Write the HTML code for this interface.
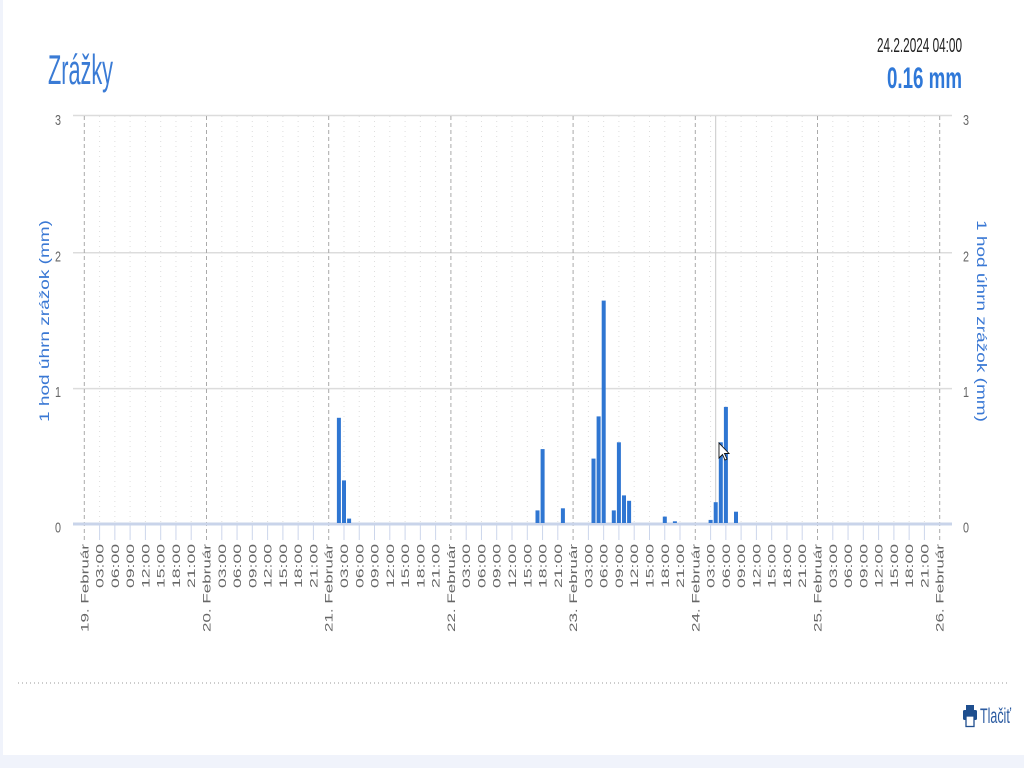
<!DOCTYPE html>
<html><head><meta charset="utf-8"><style>
html,body{margin:0;padding:0;background:#fff;}
svg{display:block;}
text{font-family:"Liberation Sans",Arial,sans-serif;}
</style></head><body>
<svg width="1024" height="768" viewBox="0 0 1024 768" xmlns="http://www.w3.org/2000/svg">
<rect x="0" y="0" width="1024" height="768" fill="#ffffff"/>
<rect x="0" y="0" width="3" height="768" fill="#f0f3fb"/>
<rect x="0" y="755" width="1024" height="13" fill="#f0f3fb"/>

<!-- title -->
<text x="48" y="84" font-size="42" fill="#3a7bd5" textLength="65" lengthAdjust="spacingAndGlyphs">Zrážky</text>
<text x="877" y="52" font-size="20" fill="#222" textLength="85" lengthAdjust="spacingAndGlyphs">24.2.2024 04:00</text>
<text x="887" y="88" font-size="30" font-weight="bold" fill="#2f78d8" textLength="75" lengthAdjust="spacingAndGlyphs">0.16 mm</text>

<!-- hour dotted lines -->
<g stroke="#dedede" stroke-width="1" stroke-dasharray="1 4">
<line x1="99.6" y1="116" x2="99.6" y2="523"/><line x1="114.85" y1="116" x2="114.85" y2="523"/><line x1="130.1" y1="116" x2="130.1" y2="523"/><line x1="145.4" y1="116" x2="145.4" y2="523"/><line x1="160.7" y1="116" x2="160.7" y2="523"/><line x1="175.95" y1="116" x2="175.95" y2="523"/><line x1="191.2" y1="116" x2="191.2" y2="523"/>
<line x1="221.8" y1="116" x2="221.8" y2="523"/><line x1="237.05" y1="116" x2="237.05" y2="523"/><line x1="252.3" y1="116" x2="252.3" y2="523"/><line x1="267.6" y1="116" x2="267.6" y2="523"/><line x1="282.9" y1="116" x2="282.9" y2="523"/><line x1="298.15" y1="116" x2="298.15" y2="523"/><line x1="313.4" y1="116" x2="313.4" y2="523"/>
<line x1="344" y1="116" x2="344" y2="523"/><line x1="359.25" y1="116" x2="359.25" y2="523"/><line x1="374.5" y1="116" x2="374.5" y2="523"/><line x1="389.8" y1="116" x2="389.8" y2="523"/><line x1="405.1" y1="116" x2="405.1" y2="523"/><line x1="420.35" y1="116" x2="420.35" y2="523"/><line x1="435.6" y1="116" x2="435.6" y2="523"/>
<line x1="466.2" y1="116" x2="466.2" y2="523"/><line x1="481.45" y1="116" x2="481.45" y2="523"/><line x1="496.7" y1="116" x2="496.7" y2="523"/><line x1="512" y1="116" x2="512" y2="523"/><line x1="527.3" y1="116" x2="527.3" y2="523"/><line x1="542.55" y1="116" x2="542.55" y2="523"/><line x1="557.8" y1="116" x2="557.8" y2="523"/>
<line x1="588.4" y1="116" x2="588.4" y2="523"/><line x1="603.65" y1="116" x2="603.65" y2="523"/><line x1="618.9" y1="116" x2="618.9" y2="523"/><line x1="634.2" y1="116" x2="634.2" y2="523"/><line x1="649.5" y1="116" x2="649.5" y2="523"/><line x1="664.75" y1="116" x2="664.75" y2="523"/><line x1="680" y1="116" x2="680" y2="523"/>
<line x1="710.6" y1="116" x2="710.6" y2="523"/><line x1="725.85" y1="116" x2="725.85" y2="523"/><line x1="741.1" y1="116" x2="741.1" y2="523"/><line x1="756.4" y1="116" x2="756.4" y2="523"/><line x1="771.7" y1="116" x2="771.7" y2="523"/><line x1="786.95" y1="116" x2="786.95" y2="523"/><line x1="802.2" y1="116" x2="802.2" y2="523"/>
<line x1="832.8" y1="116" x2="832.8" y2="523"/><line x1="848.05" y1="116" x2="848.05" y2="523"/><line x1="863.3" y1="116" x2="863.3" y2="523"/><line x1="878.6" y1="116" x2="878.6" y2="523"/><line x1="893.9" y1="116" x2="893.9" y2="523"/><line x1="909.15" y1="116" x2="909.15" y2="523"/><line x1="924.4" y1="116" x2="924.4" y2="523"/>
</g>

<!-- horizontal grid -->
<g stroke="#dcdcdc" stroke-width="1.5">
<line x1="73" y1="115.5" x2="952" y2="115.5"/>
<line x1="73" y1="252.7" x2="952" y2="252.7"/>
<line x1="73" y1="388.6" x2="952" y2="388.6"/>
</g>

<!-- day dashed lines -->
<g stroke="#aaaaaa" stroke-width="1" stroke-dasharray="4 3">
<line x1="84.3" y1="116" x2="84.3" y2="540"/>
<line x1="206.5" y1="116" x2="206.5" y2="540"/>
<line x1="328.7" y1="116" x2="328.7" y2="540"/>
<line x1="450.9" y1="116" x2="450.9" y2="540"/>
<line x1="573.1" y1="116" x2="573.1" y2="540"/>
<line x1="695.3" y1="116" x2="695.3" y2="540"/>
<line x1="817.5" y1="116" x2="817.5" y2="540"/>
<line x1="939.7" y1="116" x2="939.7" y2="540"/>
</g>

<!-- crosshair -->
<line x1="715.7" y1="116" x2="715.7" y2="523" stroke="#c8c8c8" stroke-width="1"/>

<!-- ticks below axis -->
<g stroke="#ccd6eb" stroke-width="1">
<line x1="99.6" y1="525" x2="99.6" y2="540"/><line x1="114.85" y1="525" x2="114.85" y2="540"/><line x1="130.1" y1="525" x2="130.1" y2="540"/><line x1="145.4" y1="525" x2="145.4" y2="540"/><line x1="160.7" y1="525" x2="160.7" y2="540"/><line x1="175.95" y1="525" x2="175.95" y2="540"/><line x1="191.2" y1="525" x2="191.2" y2="540"/>
<line x1="221.8" y1="525" x2="221.8" y2="540"/><line x1="237.05" y1="525" x2="237.05" y2="540"/><line x1="252.3" y1="525" x2="252.3" y2="540"/><line x1="267.6" y1="525" x2="267.6" y2="540"/><line x1="282.9" y1="525" x2="282.9" y2="540"/><line x1="298.15" y1="525" x2="298.15" y2="540"/><line x1="313.4" y1="525" x2="313.4" y2="540"/>
<line x1="344" y1="525" x2="344" y2="540"/><line x1="359.25" y1="525" x2="359.25" y2="540"/><line x1="374.5" y1="525" x2="374.5" y2="540"/><line x1="389.8" y1="525" x2="389.8" y2="540"/><line x1="405.1" y1="525" x2="405.1" y2="540"/><line x1="420.35" y1="525" x2="420.35" y2="540"/><line x1="435.6" y1="525" x2="435.6" y2="540"/>
<line x1="466.2" y1="525" x2="466.2" y2="540"/><line x1="481.45" y1="525" x2="481.45" y2="540"/><line x1="496.7" y1="525" x2="496.7" y2="540"/><line x1="512" y1="525" x2="512" y2="540"/><line x1="527.3" y1="525" x2="527.3" y2="540"/><line x1="542.55" y1="525" x2="542.55" y2="540"/><line x1="557.8" y1="525" x2="557.8" y2="540"/>
<line x1="588.4" y1="525" x2="588.4" y2="540"/><line x1="603.65" y1="525" x2="603.65" y2="540"/><line x1="618.9" y1="525" x2="618.9" y2="540"/><line x1="634.2" y1="525" x2="634.2" y2="540"/><line x1="649.5" y1="525" x2="649.5" y2="540"/><line x1="664.75" y1="525" x2="664.75" y2="540"/><line x1="680" y1="525" x2="680" y2="540"/>
<line x1="710.6" y1="525" x2="710.6" y2="540"/><line x1="725.85" y1="525" x2="725.85" y2="540"/><line x1="741.1" y1="525" x2="741.1" y2="540"/><line x1="756.4" y1="525" x2="756.4" y2="540"/><line x1="771.7" y1="525" x2="771.7" y2="540"/><line x1="786.95" y1="525" x2="786.95" y2="540"/><line x1="802.2" y1="525" x2="802.2" y2="540"/>
<line x1="832.8" y1="525" x2="832.8" y2="540"/><line x1="848.05" y1="525" x2="848.05" y2="540"/><line x1="863.3" y1="525" x2="863.3" y2="540"/><line x1="878.6" y1="525" x2="878.6" y2="540"/><line x1="893.9" y1="525" x2="893.9" y2="540"/><line x1="909.15" y1="525" x2="909.15" y2="540"/><line x1="924.4" y1="525" x2="924.4" y2="540"/>
</g>

<!-- zero axis line -->
<line x1="73" y1="524" x2="952" y2="524" stroke="#c9d4ea" stroke-width="3"/>

<!-- bars -->
<g fill="#2f76d2">
<rect x="336.9" y="417.8" width="4" height="105.2"/>
<rect x="342" y="480.4" width="4" height="42.6"/>
<rect x="347.1" y="518.6" width="4" height="4.4"/>
<rect x="535.5" y="510.4" width="4" height="12.6"/>
<rect x="540.6" y="449.1" width="4" height="73.9"/>
<rect x="560.9" y="508.3" width="4" height="14.7"/>
<rect x="591.5" y="458.6" width="4" height="64.4"/>
<rect x="596.6" y="416.4" width="4" height="106.6"/>
<rect x="601.7" y="300.6" width="4" height="222.4"/>
<rect x="611.8" y="510.4" width="4" height="12.6"/>
<rect x="616.9" y="442.3" width="4" height="80.7"/>
<rect x="622" y="495.4" width="4" height="27.6"/>
<rect x="627.1" y="500.8" width="4" height="22.2"/>
<rect x="662.8" y="516.6" width="4" height="6.4"/>
<rect x="672.9" y="521.3" width="4" height="1.7"/>
<rect x="708.6" y="519.9" width="4" height="3.1"/>
<rect x="713.7" y="502.2" width="4" height="20.8"/>
<rect x="718.8" y="442.3" width="4" height="80.7"/>
<rect x="723.9" y="406.9" width="4" height="116.1"/>
<rect x="734" y="511.7" width="4" height="11.3"/>
</g>

<!-- cursor -->
<polygon points="719,443 719,458 722.5,454.5 725,460 727,459 724.5,453.5 729,453.5" fill="#ffffff" stroke="#111" stroke-width="0.9"/>

<!-- y labels -->
<g font-size="15" fill="#666">
<text x="55" y="125" textLength="6" lengthAdjust="spacingAndGlyphs">3</text>
<text x="55" y="261.5" textLength="6" lengthAdjust="spacingAndGlyphs">2</text>
<text x="55" y="397" textLength="6" lengthAdjust="spacingAndGlyphs">1</text>
<text x="55" y="532.5" textLength="6" lengthAdjust="spacingAndGlyphs">0</text>
<text x="963" y="125" textLength="6" lengthAdjust="spacingAndGlyphs">3</text>
<text x="963" y="261.5" textLength="6" lengthAdjust="spacingAndGlyphs">2</text>
<text x="963" y="397" textLength="6" lengthAdjust="spacingAndGlyphs">1</text>
<text x="963" y="532.5" textLength="6" lengthAdjust="spacingAndGlyphs">0</text>
</g>

<!-- y titles -->
<text transform="translate(49,422) rotate(-90)" font-size="14" fill="#3a78d4" textLength="202" lengthAdjust="spacingAndGlyphs">1 hod úhrn zrážok (mm)</text>
<text transform="translate(977,220) rotate(90)" font-size="14" fill="#3a78d4" textLength="202" lengthAdjust="spacingAndGlyphs">1 hod úhrn zrážok (mm)</text>

<!-- x labels -->
<g font-size="11" fill="#666">
<text transform="translate(88.3,632) rotate(-90)" textLength="88" lengthAdjust="spacingAndGlyphs">19. Február</text>
<text transform="translate(103.6,588) rotate(-90)" textLength="44" lengthAdjust="spacingAndGlyphs">03:00</text>
<text transform="translate(118.85,588) rotate(-90)" textLength="44" lengthAdjust="spacingAndGlyphs">06:00</text>
<text transform="translate(134.1,588) rotate(-90)" textLength="44" lengthAdjust="spacingAndGlyphs">09:00</text>
<text transform="translate(149.4,588) rotate(-90)" textLength="44" lengthAdjust="spacingAndGlyphs">12:00</text>
<text transform="translate(164.7,588) rotate(-90)" textLength="44" lengthAdjust="spacingAndGlyphs">15:00</text>
<text transform="translate(179.95,588) rotate(-90)" textLength="44" lengthAdjust="spacingAndGlyphs">18:00</text>
<text transform="translate(195.2,588) rotate(-90)" textLength="44" lengthAdjust="spacingAndGlyphs">21:00</text>
<text transform="translate(210.5,632) rotate(-90)" textLength="88" lengthAdjust="spacingAndGlyphs">20. Február</text>
<text transform="translate(225.8,588) rotate(-90)" textLength="44" lengthAdjust="spacingAndGlyphs">03:00</text>
<text transform="translate(241.05,588) rotate(-90)" textLength="44" lengthAdjust="spacingAndGlyphs">06:00</text>
<text transform="translate(256.3,588) rotate(-90)" textLength="44" lengthAdjust="spacingAndGlyphs">09:00</text>
<text transform="translate(271.6,588) rotate(-90)" textLength="44" lengthAdjust="spacingAndGlyphs">12:00</text>
<text transform="translate(286.9,588) rotate(-90)" textLength="44" lengthAdjust="spacingAndGlyphs">15:00</text>
<text transform="translate(302.15,588) rotate(-90)" textLength="44" lengthAdjust="spacingAndGlyphs">18:00</text>
<text transform="translate(317.4,588) rotate(-90)" textLength="44" lengthAdjust="spacingAndGlyphs">21:00</text>
<text transform="translate(332.7,632) rotate(-90)" textLength="88" lengthAdjust="spacingAndGlyphs">21. Február</text>
<text transform="translate(348,588) rotate(-90)" textLength="44" lengthAdjust="spacingAndGlyphs">03:00</text>
<text transform="translate(363.25,588) rotate(-90)" textLength="44" lengthAdjust="spacingAndGlyphs">06:00</text>
<text transform="translate(378.5,588) rotate(-90)" textLength="44" lengthAdjust="spacingAndGlyphs">09:00</text>
<text transform="translate(393.8,588) rotate(-90)" textLength="44" lengthAdjust="spacingAndGlyphs">12:00</text>
<text transform="translate(409.1,588) rotate(-90)" textLength="44" lengthAdjust="spacingAndGlyphs">15:00</text>
<text transform="translate(424.35,588) rotate(-90)" textLength="44" lengthAdjust="spacingAndGlyphs">18:00</text>
<text transform="translate(439.6,588) rotate(-90)" textLength="44" lengthAdjust="spacingAndGlyphs">21:00</text>
<text transform="translate(454.9,632) rotate(-90)" textLength="88" lengthAdjust="spacingAndGlyphs">22. Február</text>
<text transform="translate(470.2,588) rotate(-90)" textLength="44" lengthAdjust="spacingAndGlyphs">03:00</text>
<text transform="translate(485.45,588) rotate(-90)" textLength="44" lengthAdjust="spacingAndGlyphs">06:00</text>
<text transform="translate(500.7,588) rotate(-90)" textLength="44" lengthAdjust="spacingAndGlyphs">09:00</text>
<text transform="translate(516,588) rotate(-90)" textLength="44" lengthAdjust="spacingAndGlyphs">12:00</text>
<text transform="translate(531.3,588) rotate(-90)" textLength="44" lengthAdjust="spacingAndGlyphs">15:00</text>
<text transform="translate(546.55,588) rotate(-90)" textLength="44" lengthAdjust="spacingAndGlyphs">18:00</text>
<text transform="translate(561.8,588) rotate(-90)" textLength="44" lengthAdjust="spacingAndGlyphs">21:00</text>
<text transform="translate(577.1,632) rotate(-90)" textLength="88" lengthAdjust="spacingAndGlyphs">23. Február</text>
<text transform="translate(592.4,588) rotate(-90)" textLength="44" lengthAdjust="spacingAndGlyphs">03:00</text>
<text transform="translate(607.65,588) rotate(-90)" textLength="44" lengthAdjust="spacingAndGlyphs">06:00</text>
<text transform="translate(622.9,588) rotate(-90)" textLength="44" lengthAdjust="spacingAndGlyphs">09:00</text>
<text transform="translate(638.2,588) rotate(-90)" textLength="44" lengthAdjust="spacingAndGlyphs">12:00</text>
<text transform="translate(653.5,588) rotate(-90)" textLength="44" lengthAdjust="spacingAndGlyphs">15:00</text>
<text transform="translate(668.75,588) rotate(-90)" textLength="44" lengthAdjust="spacingAndGlyphs">18:00</text>
<text transform="translate(684,588) rotate(-90)" textLength="44" lengthAdjust="spacingAndGlyphs">21:00</text>
<text transform="translate(699.3,632) rotate(-90)" textLength="88" lengthAdjust="spacingAndGlyphs">24. Február</text>
<text transform="translate(714.6,588) rotate(-90)" textLength="44" lengthAdjust="spacingAndGlyphs">03:00</text>
<text transform="translate(729.85,588) rotate(-90)" textLength="44" lengthAdjust="spacingAndGlyphs">06:00</text>
<text transform="translate(745.1,588) rotate(-90)" textLength="44" lengthAdjust="spacingAndGlyphs">09:00</text>
<text transform="translate(760.4,588) rotate(-90)" textLength="44" lengthAdjust="spacingAndGlyphs">12:00</text>
<text transform="translate(775.7,588) rotate(-90)" textLength="44" lengthAdjust="spacingAndGlyphs">15:00</text>
<text transform="translate(790.95,588) rotate(-90)" textLength="44" lengthAdjust="spacingAndGlyphs">18:00</text>
<text transform="translate(806.2,588) rotate(-90)" textLength="44" lengthAdjust="spacingAndGlyphs">21:00</text>
<text transform="translate(821.5,632) rotate(-90)" textLength="88" lengthAdjust="spacingAndGlyphs">25. Február</text>
<text transform="translate(836.8,588) rotate(-90)" textLength="44" lengthAdjust="spacingAndGlyphs">03:00</text>
<text transform="translate(852.05,588) rotate(-90)" textLength="44" lengthAdjust="spacingAndGlyphs">06:00</text>
<text transform="translate(867.3,588) rotate(-90)" textLength="44" lengthAdjust="spacingAndGlyphs">09:00</text>
<text transform="translate(882.6,588) rotate(-90)" textLength="44" lengthAdjust="spacingAndGlyphs">12:00</text>
<text transform="translate(897.9,588) rotate(-90)" textLength="44" lengthAdjust="spacingAndGlyphs">15:00</text>
<text transform="translate(913.15,588) rotate(-90)" textLength="44" lengthAdjust="spacingAndGlyphs">18:00</text>
<text transform="translate(928.4,588) rotate(-90)" textLength="44" lengthAdjust="spacingAndGlyphs">21:00</text>
<text transform="translate(943.7,632) rotate(-90)" textLength="88" lengthAdjust="spacingAndGlyphs">26. Február</text>
</g>

<!-- separator -->
<line x1="18" y1="683" x2="1007" y2="683" stroke="#999" stroke-width="1" stroke-dasharray="1 3"/>

<!-- print -->
<g>
<rect x="966" y="705" width="8" height="5" fill="#1f4f8f"/>
<rect x="963" y="710" width="14" height="10" rx="1.5" fill="#1f4f8f"/>
<rect x="966" y="716" width="8" height="10.5" fill="#ffffff" stroke="#1f4f8f" stroke-width="1.3"/>
</g>
<text x="980" y="723" font-size="21" fill="#2a5aa0" textLength="31" lengthAdjust="spacingAndGlyphs">Tlačiť</text>
</svg>
</body></html>
